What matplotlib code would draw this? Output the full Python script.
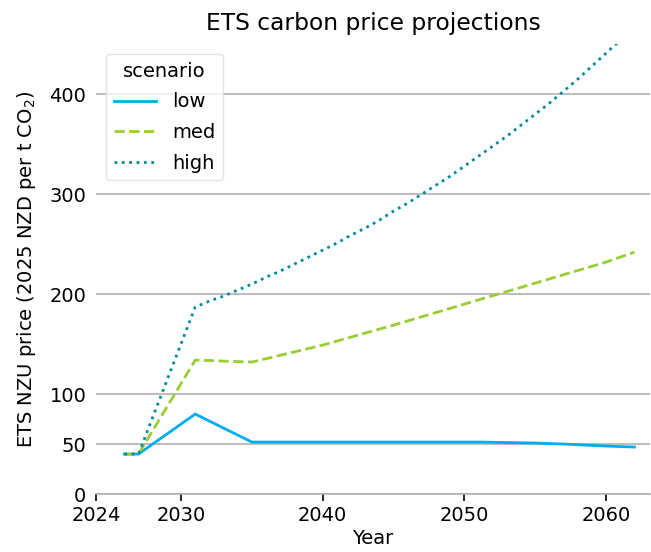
import matplotlib
matplotlib.use("Agg")
import matplotlib.pyplot as plt

# data
low_years = [2026, 2027, 2031, 2035, 2051, 2053, 2055, 2057, 2060, 2062]
low_price = [40, 40, 80, 52, 52, 51.5, 51, 50, 48, 47]

med_years = [2026, 2027, 2031, 2035, 2040, 2045, 2050, 2055, 2060, 2062]
med_price = [40, 40, 134, 132, 149, 169, 190, 211, 232, 242]

high_years = [2026, 2027] + list(range(2031, 2063))
high_price = [40, 40,
              187, 193, 198, 204, 210, 217, 223, 230, 237, 244,
              251, 259, 266, 274, 283, 291, 300, 309, 318, 328,
              338, 348, 358, 369, 380, 391, 403, 415, 428, 441,
              454, 467]

yticks = [0, 50, 100, 200, 300, 400]
xticks = [2024, 2030, 2040, 2050, 2060]

fs = 14

fig = plt.figure(figsize=(6.51, 5.52), dpi=100)
ax = fig.add_axes([0.1475, 0.105, 0.851, 0.815])

ax.plot(low_years, low_price, color="#00AEEF", lw=2.0, ls="-", label="low")
ax.plot(med_years, med_price, color="#9ACD32", lw=2.0, ls="--", label="med")
ax.plot(high_years, high_price, color="#008B9E", lw=2.0, ls=":", label="high")

ax.set_xlim(2024, 2063.1)
ax.set_ylim(0, 450)
ax.set_xticks(xticks)
ax.set_yticks(yticks)
ax.tick_params(axis="both", labelsize=fs)
ax.tick_params(axis="y", length=0, pad=7)
ax.tick_params(axis="x", length=5, width=1.2, color="black")

ax.yaxis.grid(True, color="#b0b0b0", lw=1.2)
ax.set_axisbelow(True)
for side in ["left", "right", "top"]:
    ax.spines[side].set_visible(False)
ax.spines["bottom"].set_color("#b0b0b0")
ax.spines["bottom"].set_linewidth(1.2)

ax.set_title("ETS carbon price projections", fontsize=16.8, pad=10)
ax.set_xlabel("Year", fontsize=fs, labelpad=3)
ax.set_ylabel("ETS NZU price (2025 NZD per t CO$_2$)", fontsize=fs, labelpad=8)

ax.legend(title="scenario", loc="upper left", fontsize=fs, title_fontsize=fs,
          framealpha=0.8, edgecolor="#dddddd", handlelength=2.2,
          labelspacing=0.6)

fig.savefig("out.png", dpi=100)
